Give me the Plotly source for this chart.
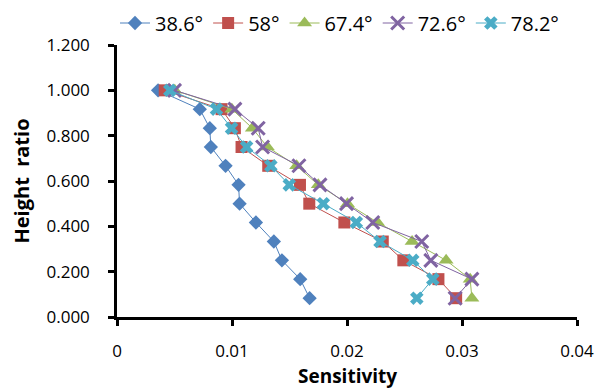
import plotly.graph_objects as go

height_ratio = [1.000, 0.917, 0.833, 0.750, 0.667, 0.583, 0.500, 0.417, 0.333, 0.250, 0.167, 0.083]

s_38_6 = [0.00357, 0.00720, 0.00807, 0.00816, 0.00944, 0.01057, 0.01066, 0.01208, 0.01364, 0.01434, 0.01593, 0.01675]
s_58 = [0.00415, 0.00909, 0.01025, 0.01083, 0.01315, 0.01591, 0.01672, 0.01977, 0.02311, 0.02490, 0.02795, 0.02949]
s_67_4 = [0.00502, 0.00999, 0.01177, 0.01308, 0.01562, 0.01750, 0.02004, 0.02266, 0.02566, 0.02862, 0.03071, 0.03086]
s_72_6 = [0.00500, 0.01025, 0.01228, 0.01266, 0.01582, 0.01765, 0.01996, 0.02224, 0.02650, 0.02729, 0.03086, 0.02940]
s_78_2 = [0.00459, 0.00865, 0.00996, 0.01127, 0.01338, 0.01498, 0.01794, 0.02081, 0.02287, 0.02572, 0.02746, 0.02607]

series_names = ["38.6°", "58°", "67.4°", "72.6°", "78.2°"]
series_values = [s_38_6, s_58, s_67_4, s_72_6, s_78_2]

x_ticks = [0, 0.01, 0.02, 0.03, 0.04]
x_tick_labels = ["0", "0.01", "0.02", "0.03", "0.04"]
y_ticks = [0, 0.2, 0.4, 0.6, 0.8, 1.0, 1.2]
y_tick_labels = ["0.000", "0.200", "0.400", "0.600", "0.800", "1.000", "1.200"]

colors = ["#4F81BD", "#C0504D", "#9BBB59", "#8064A2", "#4BACC6"]
markers = [
    dict(symbol="diamond", size=11),
    dict(symbol="square", size=12),
    dict(symbol="triangle-up", size=13),
    dict(symbol="x-thin-open", size=13, line=dict(width=3)),
    dict(symbol="x", size=12),
]

font_family = "Open Sans, DejaVu Sans, sans-serif"

# The page body adds an 8px margin, so the figure is 600x381 inside a 608x389 window.
W, H = 600, 381

fig = go.Figure()
for name, vals, col, mk in zip(series_names, series_values, colors, markers):
    m = dict(mk)
    m["color"] = col
    if "line" in m:
        m["line"] = dict(width=m["line"]["width"], color=col)
    fig.add_trace(go.Scatter(
        x=vals, y=height_ratio, mode="lines+markers", name=name,
        line=dict(color=col, width=1), marker=m,
    ))

axis_common = dict(
    showgrid=False, zeroline=False, showline=True, linecolor="black", linewidth=2.5,
    ticks="outside", ticklen=6, tickwidth=2.5, tickcolor="black",
    tickfont=dict(family=font_family, size=17, color="black"),
    mirror=False, automargin=False,
)

fig.update_layout(
    width=W, height=H,
    margin=dict(l=109, r=31, t=37, b=72),
    paper_bgcolor="white", plot_bgcolor="white",
    font=dict(family=font_family, color="black"),
    xaxis=dict(range=[0, 0.04], tickvals=x_ticks, ticktext=x_tick_labels,
               ticklabelstandoff=11, **axis_common),
    yaxis=dict(range=[0, 1.2], tickvals=y_ticks, ticktext=y_tick_labels,
               title=dict(text="<b>Height \u00a0ratio</b>", font=dict(size=20, family=font_family), standoff=21),
               ticklabelstandoff=15, **axis_common),
    legend=dict(orientation="h", xref="container", x=107 / W, xanchor="left",
                yref="container", y=1 - 15 / H, yanchor="middle",
                font=dict(size=20, family=font_family, color="black"),
                itemwidth=30, tracegroupgap=0, bgcolor="rgba(0,0,0,0)"),
    annotations=[dict(text="<b>Sensitivity</b>", xref="paper", yref="paper",
                      x=0.5, y=-(368 - 309) / 272, xanchor="center", yanchor="middle",
                      showarrow=False, font=dict(size=19, family=font_family, color="black"))],
    showlegend=True,
)

fig.write_html("out.html")
